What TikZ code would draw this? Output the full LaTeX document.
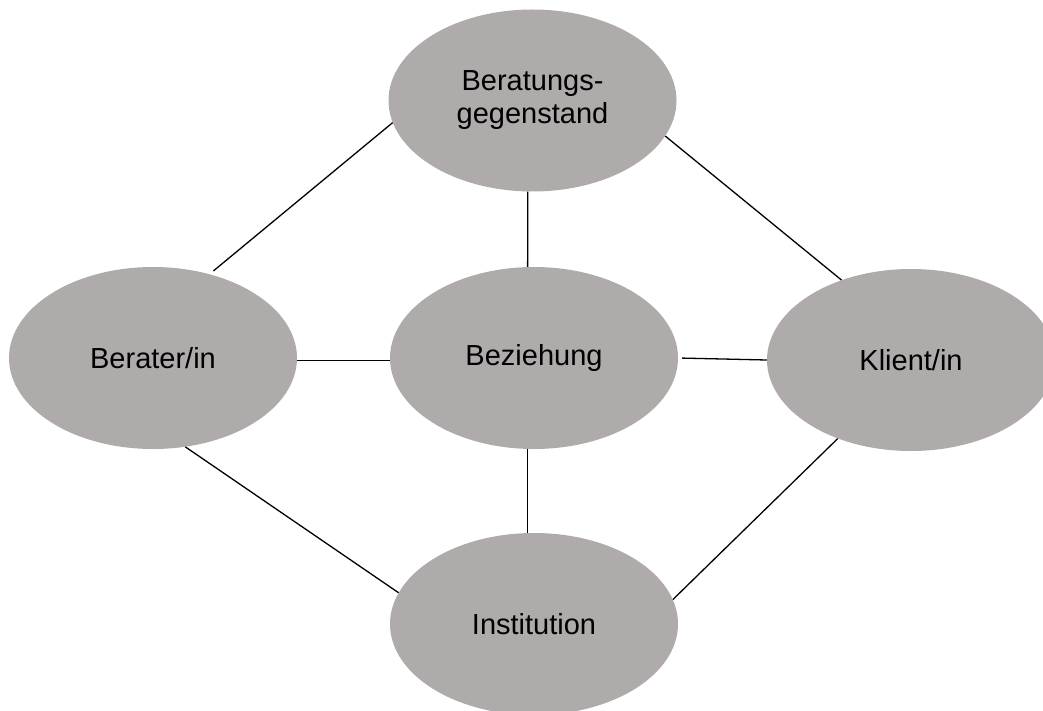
\documentclass[tikz,border=0pt]{standalone}
\usepackage{fontspec}
\setmainfont{Liberation Sans}
\usetikzlibrary{shapes.geometric}
\definecolor{bubblegray}{RGB}{174,171,170}
\begin{document}
\begin{tikzpicture}[x=1pt,y=-1pt,
  bubble/.style={ellipse, fill=bubblegray, draw=none,
    minimum width=288pt, minimum height=182pt, inner sep=0pt,
    align=center, font=\fontsize{29}{33}\selectfont},
  link/.style={draw=black, line width=1.3pt}]
\useasboundingbox (0,0) rectangle (1043,711);
\clip (0,0) rectangle (1043,711);

% the five ellipses
\node[bubble] (topic)  at (532.5,100.5) {Beratungs-\\gegenstand};
\node[bubble] (advisor) at (153,358)    {Berater/in};
\node[bubble] (relation) at (534,358)   {Beziehung};
\node[bubble] (client) at (911,360)     {Klient/in};
\node[bubble] (inst)   at (534,624)     {Institution};

% connections
\draw[link, shorten <=5pt] (advisor.56) -- (topic.189);
\draw[link] (topic.-15) -- (client.131);
\draw[link] (topic.-93) -- (relation.94);
\draw[link] (advisor.-1.5) -- (relation.181.5);
\draw[link, shorten <=4pt] (relation.east) -- (client.west);
\draw[link] (advisor.-70) -- (inst.167);
\draw[link] (client.-133) -- (inst.10.5);
\draw[link] (relation.-94) -- (inst.94);
\end{tikzpicture}
\end{document}
